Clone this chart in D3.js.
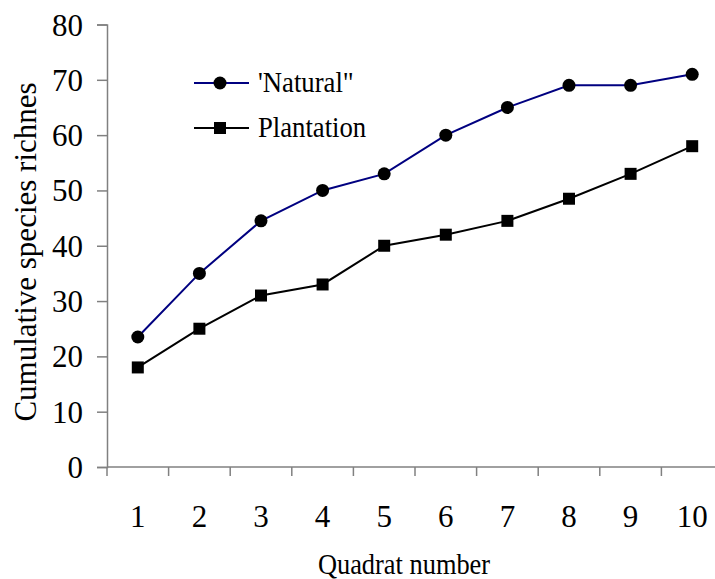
<!DOCTYPE html>
<html>
<head>
<meta charset="utf-8">
<script src="https://cdn.jsdelivr.net/npm/d3@7"></script>
<style>
  html, body { margin: 0; padding: 0; background: #fff; }
  svg text { font-family: "Liberation Serif", "Times New Roman", serif !important; fill: #000; }
</style>
</head>
<body>
<svg id="chart" width="715" height="579" font-family="Liberation Serif, serif"></svg>
<script>
const quadrats = ["1","2","3","4","5","6","7","8","9","10"];
const naturalValues = [23.5, 35, 44.5, 50, 53, 60, 65, 69, 69, 71];
const plantationValues = [18, 25, 31, 33, 40, 42, 44.5, 48.5, 53, 58];
const yTicks = [0, 10, 20, 30, 40, 50, 60, 70, 80];
const seriesNames = ["'Natural\"", "Plantation"];

const svg = d3.select("#chart");
const axisColor = "#808080";
const serif = "'Liberation Serif', 'Times New Roman', serif";

const x = d3.scaleBand().domain(quadrats).range([107, 723]).paddingInner(0).paddingOuter(0);
const y = d3.scaleLinear().domain([0, 80]).range([467, 24.5]);

// Y axis
const gy = svg.append("g").attr("transform", "translate(107,0)")
  .call(d3.axisLeft(y).tickValues(yTicks).tickSize(10).tickPadding(14));
gy.attr("font-family", serif);
gy.select(".domain").attr("stroke", axisColor).attr("stroke-width", 1.5);
gy.selectAll(".tick line").attr("stroke", axisColor).attr("stroke-width", 1.5);
gy.selectAll(".tick text").attr("font-size", 31).attr("dy", "0.34em")
  .style("font-family", serif).attr("fill", "#000");

// X axis
const gx = svg.append("g").attr("transform", "translate(0,467)");
gx.append("line").attr("x1", 107).attr("x2", 723).attr("y1", 0).attr("y2", 0)
  .attr("stroke", axisColor).attr("stroke-width", 1.5);
gx.selectAll("line.tk").data(quadrats).enter().append("line").attr("class", "tk")
  .attr("x1", d => x(d)).attr("x2", d => x(d)).attr("y1", 0).attr("y2", 9)
  .attr("stroke", axisColor).attr("stroke-width", 1.5);
gx.selectAll("text.lbl").data(quadrats).enter().append("text").attr("class", "lbl")
  .attr("x", d => x(d) + x.bandwidth() / 2).attr("y", 60)
  .attr("text-anchor", "middle").attr("font-size", 31).style("font-family", serif).text(d => d);

// Axis titles
svg.append("text").attr("transform", "translate(404,574) scale(0.88,1)").attr("text-anchor", "middle")
  .attr("font-size", 30).style("font-family", serif).text("Quadrat number");
svg.append("text").attr("transform", "translate(36,252) rotate(-90)")
  .attr("text-anchor", "middle").attr("font-size", 31).style("font-family", serif)
  .text("Cumulative species richnes");

const cx = d => x(d) + x.bandwidth() / 2;
const line = d3.line().x(d => cx(d.q)).y(d => y(d.v));

const nat = quadrats.map((q, i) => ({ q, v: naturalValues[i] }));
const pla = quadrats.map((q, i) => ({ q, v: plantationValues[i] }));

svg.append("path").datum(nat).attr("d", line).attr("fill", "none")
  .attr("stroke", "#000080").attr("stroke-width", 2);
svg.append("path").datum(pla).attr("d", line).attr("fill", "none")
  .attr("stroke", "#000").attr("stroke-width", 2);

svg.selectAll("circle.nat").data(nat).enter().append("circle").attr("class", "nat")
  .attr("cx", d => cx(d.q)).attr("cy", d => y(d.v)).attr("r", 6.5).attr("fill", "#000");
svg.selectAll("rect.pla").data(pla).enter().append("rect").attr("class", "pla")
  .attr("x", d => cx(d.q) - 6).attr("y", d => y(d.v) - 6)
  .attr("width", 12).attr("height", 12).attr("fill", "#000");

// Legend
const legend = svg.append("g");
const legY = [83, 128];
const legColors = ["#000080", "#000"];
seriesNames.forEach((name, i) => {
  legend.append("line").attr("x1", 194).attr("x2", 249).attr("y1", legY[i]).attr("y2", legY[i])
    .attr("stroke", legColors[i]).attr("stroke-width", 2);
  if (i === 0) {
    legend.append("circle").attr("cx", 220).attr("cy", legY[i]).attr("r", 6.5).attr("fill", "#000");
  } else {
    legend.append("rect").attr("x", 214).attr("y", legY[i] - 6).attr("width", 12).attr("height", 12).attr("fill", "#000");
  }
  legend.append("text").attr("transform", `translate(258,${legY[i] + 9}) scale(0.89,1)`)
    .attr("font-size", 30).style("font-family", serif).text(name);
});
</script>
</body>
</html>
